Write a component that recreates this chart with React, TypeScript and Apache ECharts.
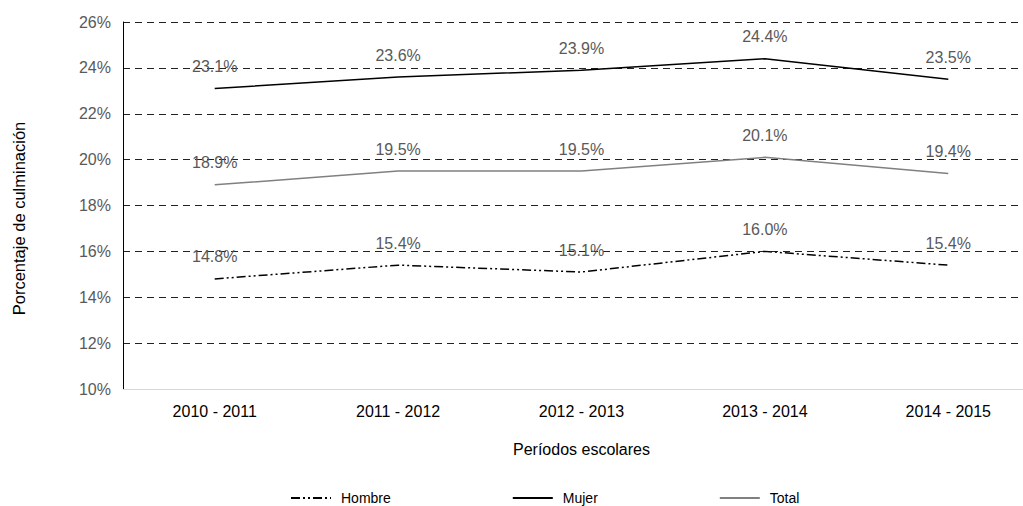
import React, { useEffect, useRef } from "react";
import * as echarts from "echarts";

const categories = ["2010 - 2011", "2011 - 2012", "2012 - 2013", "2013 - 2014", "2014 - 2015"];
const hombre = [14.8, 15.4, 15.1, 16.0, 15.4];
const mujer = [23.1, 23.6, 23.9, 24.4, 23.5];
const total = [18.9, 19.5, 19.5, 20.1, 19.4];

const FONT = "'Liberation Sans', Arial, sans-serif";

export default function App() {
  const ref = useRef<HTMLDivElement>(null);
  useEffect(() => {
    document.body.style.margin = "0";
    document.body.style.overflow = "hidden";
    document.documentElement.style.overflow = "hidden";
    const chart = echarts.init(ref.current!, null, { renderer: "svg" });
    const label = {
      show: true,
      position: "top",
      distance: 14,
      color: "#595959",
      fontSize: 16,
      fontFamily: FONT,
      formatter: (p: any) => p.value.toFixed(1) + "%",
    };
    chart.setOption({
      animation: false,
      textStyle: { fontFamily: FONT },
      grid: { left: 123, top: 22, width: 917, height: 367, containLabel: false },
      legend: {
        left: 285,
        top: 486,
        itemGap: 121,
        itemWidth: 40,
        itemHeight: 14,
        itemStyle: { opacity: 0 },
        textStyle: { color: "#000", fontSize: 14, fontFamily: FONT, padding: [0, 0, 0, 5] },
        data: ["Hombre", "Mujer", "Total"],
      },
      xAxis: {
        type: "category",
        data: categories,
        boundaryGap: true,
        axisLine: { lineStyle: { color: "#d9d9d9", width: 1 } },
        axisTick: { show: false },
        axisLabel: { color: "#000", fontSize: 16, margin: 14, fontFamily: FONT },
        name: "Períodos escolares",
        nameLocation: "middle",
        nameGap: 52,
        nameTextStyle: { color: "#000", fontSize: 16, fontFamily: FONT },
      },
      yAxis: {
        type: "value",
        min: 10,
        max: 26,
        interval: 2,
        axisLine: { show: true, lineStyle: { color: "#000", width: 1 } },
        axisTick: { show: false },
        axisLabel: { color: "#595959", fontSize: 16, margin: 12, formatter: "{value}%", fontFamily: FONT },
        splitLine: { show: true, lineStyle: { color: "#222", type: [7, 5], width: 1 } },
        name: "Porcentaje de culminación",
        nameLocation: "middle",
        nameGap: 96,
        nameTextStyle: { color: "#000", fontSize: 16.5, fontFamily: FONT, padding: [0, 26, 0, 0] },
      },
      series: [
        {
          name: "Hombre",
          type: "line",
          data: hombre,
          symbol: "circle",
          symbolSize: 0,
          lineStyle: { color: "#000", width: 1.5, type: [9, 3, 2, 3, 2, 3] },
          itemStyle: { color: "#000" },
          label,
        },
        {
          name: "Mujer",
          type: "line",
          data: mujer,
          symbol: "circle",
          symbolSize: 0,
          lineStyle: { color: "#000", width: 1.5 },
          itemStyle: { color: "#000" },
          label,
        },
        {
          name: "Total",
          type: "line",
          data: total,
          symbol: "circle",
          symbolSize: 0,
          lineStyle: { color: "#808080", width: 1.5 },
          itemStyle: { color: "#808080" },
          label,
        },
      ],
    });
    return () => chart.dispose();
  }, []);
  return <div ref={ref} style={{ width: 1040, height: 506 }} />;
}
